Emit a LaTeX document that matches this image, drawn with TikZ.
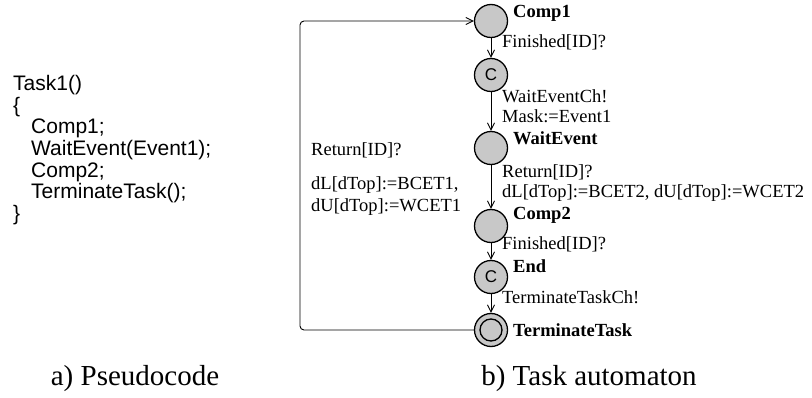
\documentclass[tikz,border=0pt]{standalone}
\usepackage{fontspec}
\setmainfont{Liberation Serif}
\newfontfamily\codefont{Liberation Sans}
\usetikzlibrary{arrows.meta}
\definecolor{stategray}{RGB}{200,200,200}

\begin{document}
\begin{tikzpicture}[x=1pt,y=-1pt,
    loc/.style={circle,draw,fill=stategray,line width=1.3pt,minimum size=33pt,inner sep=0pt},
    committed/.style={loc,font=\codefont\fontsize{17}{17}\selectfont},
    trans/.style={line width=0.9pt,-{Straight Barb[length=7pt,width=7pt]}},
    lbl/.style={anchor=base west,inner sep=0pt,font=\fontsize{18.5}{22}\selectfont},
    locname/.style={anchor=base west,inner sep=0pt,font=\bfseries\fontsize{18.5}{22}\selectfont},
    codeline/.style={anchor=base west,inner sep=0pt,font=\codefont\fontsize{21}{25}\selectfont},
    subcap/.style={anchor=base,inner sep=0pt,font=\fontsize{29}{34}\selectfont}]
    \useasboundingbox (0,0) rectangle (812,398);

    % a) pseudocode
    \node[codeline] (task) at (13,91) {Task1()};
    \node[codeline] (open) at (13,113) {\{};
    \node[codeline] (s1) at (31,134) {Comp1;};
    \node[codeline] (s2) at (31,156) {WaitEvent(Event1);};
    \node[codeline] (s3) at (31,178) {Comp2;};
    \node[codeline] (s4) at (31,199) {TerminateTask();};
    \node[codeline] (close) at (13,221) {\}};
    \node[subcap] (capa) at (135,385) {a) Pseudocode};

    % b) task automaton
    \node[loc] (comp1) at (491,21) {};
    \node[committed] (c1) at (491,75) {C};
    \node[loc] (wait) at (491,148) {};
    \node[loc] (comp2) at (491,226) {};
    \node[committed] (fin) at (491,277) {C};
    \node[loc] (term) at (491,330) {};
    \draw[line width=1.3pt] (term.center) circle (11);

    \node[locname] (ncomp1) at (513,18) {Comp1};
    \node[locname] (nwait) at (513,145) {WaitEvent};
    \node[locname] (ncomp2) at (513,220) {Comp2};
    \node[locname] (nfin) at (513,273) {End};
    \node[locname] (nterm) at (513,337) {TerminateTask};

    \draw[trans] (comp1) -- (c1);
    \draw[trans] (c1) -- (wait);
    \draw[trans] (wait) -- (comp2);
    \draw[trans] (comp2) -- (fin);
    \draw[trans] (fin) -- (term);

    \node[lbl] (g1) at (502,48) {Finished[ID]?};
    \node[lbl] (g2) at (502,103) {WaitEventCh!};
    \node[lbl] (u2) at (502,123) {Mask:=Event1};
    \node[lbl] (g3) at (502,178) {Return[ID]?};
    \node[lbl] (u3) at (502,198) {dL[dTop]:=BCET2, dU[dTop]:=WCET2};
    \node[lbl] (g4) at (502,250) {Finished[ID]?};
    \node[lbl] (g5) at (502,304) {TerminateTaskCh!};

    % back edge
    \coordinate (looptop) at (300,21);
    \draw[trans,rounded corners=4pt] (term.west) -| (looptop) -- (comp1.west);
    \node[lbl] (g6) at (311,156) {Return[ID]?};
    \node[lbl] (u6a) at (311,190) {dL[dTop]:=BCET1,};
    \node[lbl] (u6b) at (311,212) {dU[dTop]:=WCET1};

    \node[subcap] (capb) at (589,385) {b) Task automaton};
\end{tikzpicture}
\end{document}
